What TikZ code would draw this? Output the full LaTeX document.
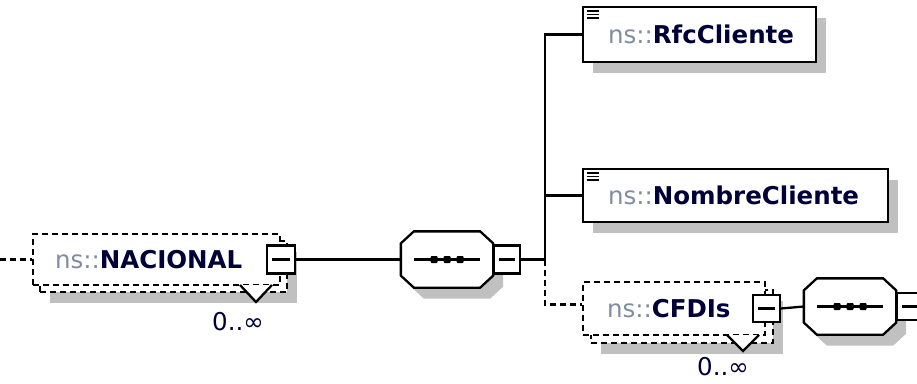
\documentclass[tikz,border=0pt]{standalone}
\usepackage{fontspec}
\setmainfont{DejaVu Sans}
\usepackage{tikz}
\usetikzlibrary{positioning,shadows}
\definecolor{nsgray}{RGB}{128,140,162}
\definecolor{namenavy}{RGB}{0,0,56}
\definecolor{shadowgray}{RGB}{192,192,192}
\newcommand{\elname}[1]{\textcolor{nsgray}{ns::}\textbf{\textcolor{namenavy}{#1}}}

\begin{document}
\begin{tikzpicture}[x=1pt,y=-1pt,line width=2.3pt,
	every node/.style={font=\fontsize{24.5}{28}\selectfont},
	boxshadow/.style={drop shadow={shadow xshift=10pt,shadow yshift=-11pt,fill=shadowgray,opacity=1}},
	elembox/.style={draw,line width=2.3pt,fill=white,boxshadow,inner sep=0pt,minimum height=55pt},
	optline/.style={dash pattern=on 6pt off 4pt},
	optbox/.style={draw,line width=2.3pt,optline,fill=white,inner sep=0pt,minimum height=51pt},
	minusbox/.style={draw,line width=2.3pt,fill=white,inner sep=0pt,minimum width=27pt,minimum height=27pt,
		path picture={\draw[line width=2.3pt] ([xshift=5pt]path picture bounding box.west) -- ([xshift=-5pt]path picture bounding box.east);}},
	seqbox/.style={inner sep=0pt,minimum width=90pt,minimum height=54pt},
	nametext/.style={inner sep=0pt},
	occurs/.style={text=namenavy,inner sep=0pt}]
	\useasboundingbox (0,0) rectangle (917,383);
	
	\coordinate (lead) at (0,259.5);
	\coordinate (trunk) at (545,259.5);
	
	\node[optbox,boxshadow,minimum width=247pt] (nacBack) at (163.5,266.5) {};
	\node[optbox,minimum width=247pt] (nacBox) at (156.5,259.5) {};
	\node[nametext,right=22pt of nacBox.west] (nacName) {\elname{NACIONAL}};
	\filldraw[fill=white] (240,285) -- (256,302) -- (272,285);
	\node[occurs] (nacOcc) at (238,322) {0..∞};
	
	\node[seqbox] (seqA) at (447,259.5) {};
	\node[seqbox] (seqB) at (850,306.5) {};
	\foreach \s in {seqA,seqB}{
		\filldraw[fill=white,boxshadow] ([xshift=13pt]\s.north west) -- ([xshift=-13pt]\s.north east)
			-- ([yshift=-12pt]\s.north east) -- ([yshift=12pt]\s.south east)
			-- ([xshift=-13pt]\s.south east) -- ([xshift=13pt]\s.south west)
			-- ([yshift=12pt]\s.south west) -- ([yshift=-12pt]\s.north west) -- cycle;
		\draw ([xshift=-33pt]\s.center) -- ([xshift=33pt]\s.center);
		\foreach \dx in {-13,0,13}
			\fill[rounded corners=1pt] ([xshift=\dx pt-3.5pt,yshift=-3.5pt]\s.center) rectangle ++(7pt,7pt);
	}
	\node[minusbox,minimum width=26pt,minimum height=28pt,right=0pt of seqA] (seqAMinus) {};
	
	\node[elembox,minimum width=233pt] (rfc) at (699.5,34.5) {};
	\node[nametext,right=25pt of rfc.west] (rfcName) {\elname{RfcCliente}};
	
	\node[elembox,minimum width=305pt,minimum height=53pt] (nom) at (735.5,195.5) {};
	\node[nametext,right=25pt of nom.west] (nomName) {\elname{NombreCliente}};
	
	\node[optbox,boxshadow,minimum width=182pt,minimum height=53pt] (cfdBack) at (682,316.5) {};
	\node[optbox,minimum width=182pt,minimum height=53pt] (cfdBox) at (674,308.5) {};
	\node[nametext,right=24pt of cfdBox.west] (cfdName) {\elname{CFDIs}};
	\filldraw[fill=white] (727,335) -- (743,351) -- (759,335);
	\node[occurs] (cfdOcc) at (723,367) {0..∞};
	
	\node[minusbox,minimum width=28pt,minimum height=28pt] (nacMinus) at (nacBox.east) {};
	\node[minusbox] (cfdMinus) at (cfdBox.east) {};
	\node[minusbox,minimum width=26pt,right=0pt of seqB] (seqBMinus) {};
	
	\foreach \b in {rfc,nom}
		\foreach \dy in {5,8.5,12}
			\draw[line width=1.4pt] ([xshift=5pt,yshift=-\dy pt]\b.north west) -- ++(12pt,0pt);
	
	\draw[optline] (lead) -- (nacBox.west);
	\draw (nacMinus.east) -- (seqA.west);
	\draw (seqAMinus.east) -- (trunk);
	\draw (rfc.west) -| (trunk);
	\draw (nom.west) -- (nom.west -| trunk);
	\draw[optline] (trunk) |- ([yshift=4pt]cfdBox.west);
	\draw (cfdMinus.east) -- (seqB.west);
\end{tikzpicture}
\end{document}
